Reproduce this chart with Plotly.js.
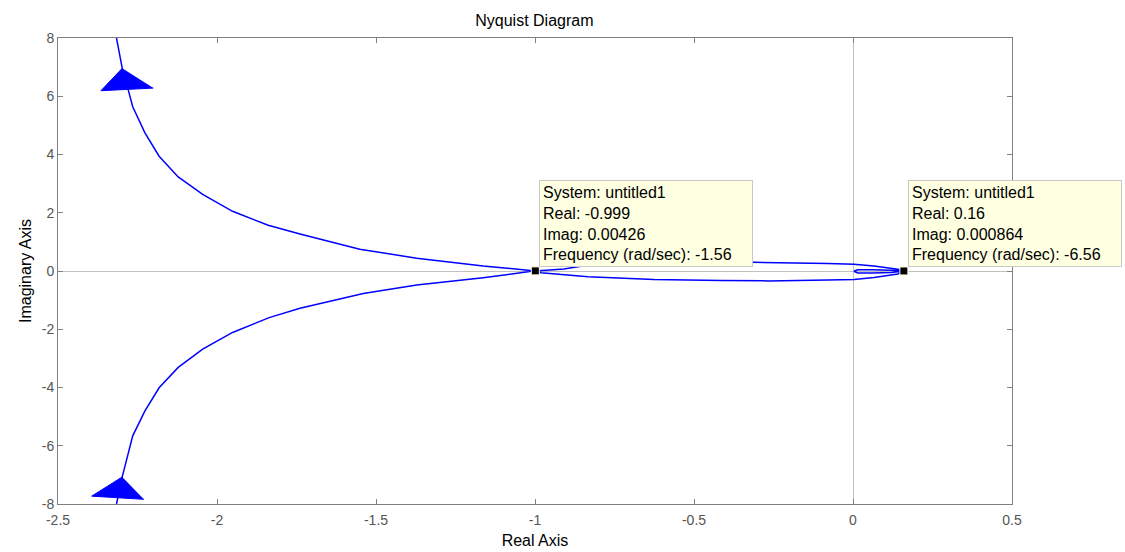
<!DOCTYPE html>
<html>
<head>
<meta charset="utf-8">
<script src="https://cdn.plot.ly/plotly-3.0.1.min.js"></script>
<style>
  html, body { margin: 0; padding: 0; background: #fff; }
  #plot { width: 1125px; height: 552px; }
</style>
</head>
<body>
<div id="plot"></div>
<script>
// Nyquist curve of untitled1, split into its pieces (real / imaginary parts)
const branchUpperRe = [-2.316, -2.298, -2.279, -2.265, -2.227, -2.182, -2.122, -2.045, -1.951, -1.839, -1.739, -1.551, -1.372, -1.163, -0.999];
const branchUpperIm = [8.0, 6.96, 6.21, 5.64, 4.75, 3.94, 3.23, 2.63, 2.05, 1.57, 1.27, 0.75, 0.44, 0.17, 0.00426];

const loopUpperRe = [-0.999, -0.909, -0.802, -0.730, -0.478, -0.311, -0.079, 0.003, 0.066, 0.141, 0.16];
const loopUpperIm = [0.00426, 0.07, 0.26, 0.30, 0.31, 0.30, 0.26, 0.23, 0.17, 0.06, 0.000864];

const innerLoopRe = [0.16, 0.12, 0.06, 0.015, 0.003, 0.015, 0.06, 0.12, 0.16];
const innerLoopIm = [0.000864, 0.03, 0.045, 0.045, -0.01, -0.065, -0.07, -0.05, 0.000864];

const loopLowerRe = [0.16, 0.141, 0.066, 0.003, -0.079, -0.267, -0.415, -0.626, -0.833, -0.981, -0.999];
const loopLowerIm = [0.000864, -0.10, -0.22, -0.29, -0.31, -0.34, -0.33, -0.29, -0.20, -0.06, 0.00426];

const branchLowerRe = [-0.999, -1.163, -1.372, -1.540, -1.739, -1.836, -1.951, -2.045, -2.122, -2.182, -2.227, -2.265, -2.298, -2.316];
const branchLowerIm = [0.00426, -0.23, -0.48, -0.77, -1.28, -1.60, -2.11, -2.68, -3.31, -4.01, -4.81, -5.66, -7.07, -8.0];

// direction arrows (triangle vertices)
const arrowUpRe = [-2.298, -2.365, -2.200];
const arrowUpIm = [6.96, 6.19, 6.28];
const arrowDownRe = [-2.298, -2.394, -2.230];
const arrowDownIm = [-7.07, -7.73, -7.84];

// data tips
const tipRe = [-0.999, 0.16];
const tipIm = [0.00426, 0.000864];
const tipFreq = [-1.56, -6.56];
const tipReText = ['-0.999', '0.16'];
const tipImText = ['0.00426', '0.000864'];
const systemName = 'untitled1';

const xTicks = [-2.5, -2, -1.5, -1, -0.5, 0, 0.5];
const yTicks = [-8, -6, -4, -2, 0, 2, 4, 6, 8];

const curveRe = [].concat(branchUpperRe, loopUpperRe, innerLoopRe, loopLowerRe, branchLowerRe);
const curveIm = [].concat(branchUpperIm, loopUpperIm, innerLoopIm, loopLowerIm, branchLowerIm);

const blue = '#0000FF';
const font = 'Liberation Sans, Arial, Helvetica, sans-serif';

const traces = [
  { x: curveRe, y: curveIm, type: 'scatter', mode: 'lines',
    line: { color: blue, width: 1.5 }, hoverinfo: 'skip', showlegend: false },
  { x: arrowUpRe, y: arrowUpIm, type: 'scatter', mode: 'lines', fill: 'toself',
    fillcolor: blue, line: { color: blue, width: 1 }, hoverinfo: 'skip', showlegend: false },
  { x: arrowDownRe, y: arrowDownIm, type: 'scatter', mode: 'lines', fill: 'toself',
    fillcolor: blue, line: { color: blue, width: 1 }, hoverinfo: 'skip', showlegend: false },
  { x: tipRe, y: tipIm, type: 'scatter', mode: 'markers', cliponaxis: false,
    marker: { symbol: 'square', size: 8, color: '#000', line: { color: '#FFFFE1', width: 1 } },
    hoverinfo: 'skip', showlegend: false }
];

const annotations = tipRe.map((re, i) => ({
  x: re, y: tipIm[i], xref: 'x', yref: 'y',
  xanchor: 'left', yanchor: 'bottom', xshift: 4, yshift: 4,
  showarrow: false, align: 'left', width: 206,
  text: 'System: ' + systemName + '<br>Real: ' + tipReText[i] +
        '<br>Imag: ' + tipImText[i] + '<br>Frequency (rad/sec): ' + tipFreq[i],
  font: { family: font, size: 16, color: '#000' },
  bgcolor: '#FFFFE1', bordercolor: '#C8C8C8', borderwidth: 1, borderpad: 3
}));

const axisCommon = {
  showgrid: false, zeroline: true, zerolinecolor: '#C0C0C0', zerolinewidth: 1,
  showline: true, linecolor: '#808080', linewidth: 1, mirror: 'ticks',
  ticks: 'inside', ticklen: 5, tickcolor: '#808080', tickwidth: 1,
  tickfont: { family: font, size: 14, color: '#555' }
};

const layout = {
  width: 1125, height: 552,
  margin: { l: 58, r: 113, t: 38, b: 48 },
  paper_bgcolor: '#fff', plot_bgcolor: '#fff',
  title: { text: 'Nyquist Diagram', font: { family: font, size: 16, color: '#000' },
           x: 0.475, xanchor: 'center', y: 0.963, yanchor: 'middle' },
  xaxis: Object.assign({}, axisCommon, {
    range: [-2.5, 0.5], tickvals: xTicks, ticktext: xTicks.map(String),
    ticklabelstandoff: 3,
    title: { text: 'Real Axis', font: { family: font, size: 16, color: '#000' }, standoff: 8 }
  }),
  yaxis: Object.assign({}, axisCommon, {
    range: [-8, 8], tickvals: yTicks, ticktext: yTicks.map(String),
    title: { text: 'Imaginary Axis', font: { family: font, size: 16, color: '#000' }, standoff: 6 }
  }),
  annotations: annotations,
  showlegend: false
};

Plotly.newPlot('plot', traces, layout, { displayModeBar: false, staticPlot: true });
</script>
</body>
</html>
